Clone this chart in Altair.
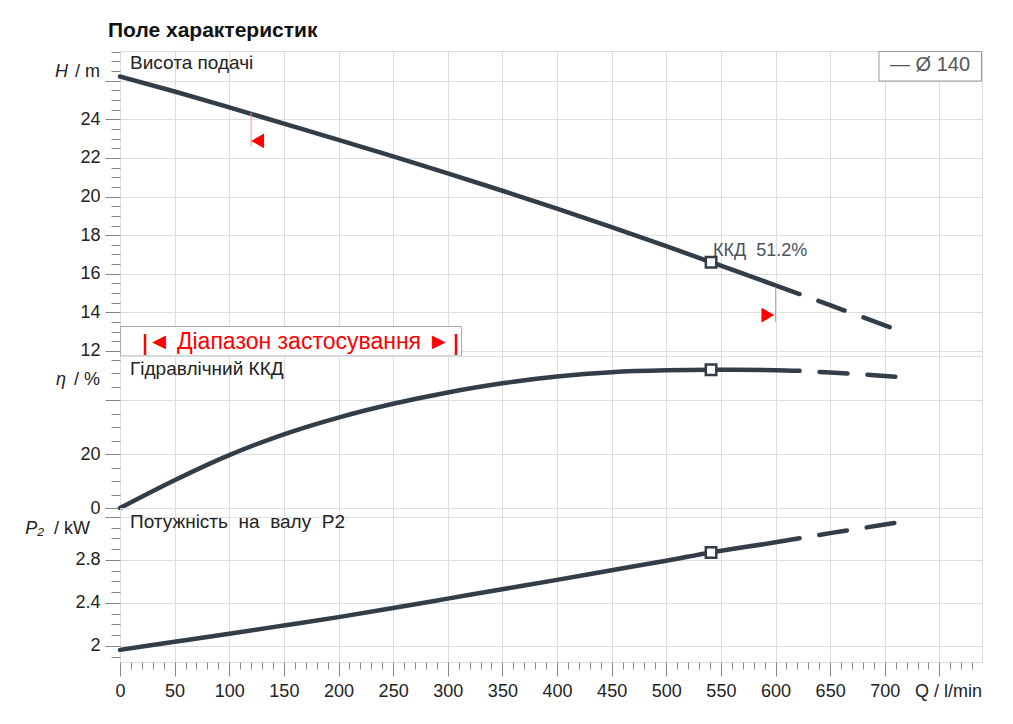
import altair as alt
import pandas as pd

FONT = "Liberation Sans"
C = "#323d48"

# ---- data ----
Q_SOLID = [0, 50, 100, 150, 200, 250, 300, 350, 400, 450, 500, 541, 600, 622]
Q_DASH = [622, 650, 700, 710]
H_SOLID = [26.22, 25.44, 24.62, 23.78, 22.94, 22.08, 21.2, 20.3, 19.38, 18.42, 17.43, 16.6, 15.4, 14.95]
H_DASH = [14.95, 14.37, 13.33, 13.12]
ETA_SOLID = [0, 10.3, 19.6, 27.3, 33.5, 38.6, 42.8, 46.2, 48.7, 50.3, 51.0, 51.2, 51.05, 50.8]
ETA_DASH = [50.8, 50.2, 48.9, 48.6]
P2_SOLID = [1.963, 2.038, 2.113, 2.19, 2.268, 2.352, 2.44, 2.528, 2.615, 2.705, 2.793, 2.87, 2.965, 3.003]
P2_DASH = [3.003, 3.05, 3.13, 3.146]

BEP_Q = [541]
BEP_H = [16.6]
BEP_ETA = [51.2]
BEP_P2 = [2.87]
BEP_LABEL = ["ККД\u00a0\u00a051.2%"]

RANGE_Q = [120, 600]
RANGE_H1 = [24.34, 15.3]
RANGE_H2 = [22.6, 13.5]
TRI_Q = [126, 593]
TRI_H = [22.88, 13.86]
TRI_SHAPE = ["triangle-left", "triangle-right"]

X_MINOR = list(range(0, 790, 10))
X_MAJOR = list(range(0, 790, 50))
H_TICKS = [12 + 0.5 * i for i in range(32)]
ETA_TICKS = list(range(0, 60, 5))
P2_TICKS = [round(1.9 + 0.1 * i, 1) for i in range(14)]

W = 862
HT, HM, HB = 305, 152, 154

x_scale = alt.Scale(domain=[0, 789], nice=False, zero=False)
LBL = dict(labelFont=FONT, labelFontSize=18, labelColor="#222")


def xenc(bottom=False):
    if bottom:
        ax = alt.Axis(
            values=X_MINOR, title=None, grid=True, domain=False,
            tickSize={"condition": {"test": "datum.value % 50 === 0", "value": 14}, "value": 7},
            gridOpacity={"condition": {"test": "datum.value % 50 === 0", "value": 1}, "value": 0},
            labelExpr="datum.value % 50 === 0 && datum.value <= 700 ? format(datum.value, 'd') : ''",
            labelPadding=6, labelOverlap=False, labelFlush=False, **LBL,
        )
    else:
        ax = alt.Axis(values=X_MAJOR, title=None, grid=True, labels=False, ticks=False, domain=False)
    return alt.X("Q:Q", scale=x_scale, axis=ax)


def yaxis(values, test, label_expr):
    return alt.Axis(
        values=values, title=None, grid=True, domain=False,
        tickSize={"condition": {"test": test, "value": 15}, "value": 9},
        gridOpacity={"condition": {"test": test, "value": 1}, "value": 0},
        labelExpr=label_expr, labelPadding=5, labelOverlap=False, labelFlush=False, **LBL,
    )


def text_at(txt, x, y, size=19, align="left", style="normal", weight="normal", color="#222"):
    return alt.Chart(pd.DataFrame({"t": [txt]})).mark_text(
        align=align, baseline="middle", font=FONT, fontSize=size,
        fontStyle=style, fontWeight=weight, color=color,
    ).encode(text="t:N", x=alt.value(x), y=alt.value(y))


def curve(qs, vs, qd, vd, bq, bv, y, bottom=False):
    ds = pd.DataFrame({"Q": qs, "v": vs})
    dd = pd.DataFrame({"Q": qd, "v": vd})
    db = pd.DataFrame({"Q": bq, "v": bv})
    solid = alt.Chart(ds).mark_line(color=C, strokeWidth=4.5, strokeCap="round", strokeJoin="round",
                                    interpolate="monotone").encode(x=xenc(bottom), y=y)
    dash = alt.Chart(dd).mark_line(color=C, strokeWidth=4.5, strokeCap="round", interpolate="monotone",
                                   strokeDash=[28, 20], strokeDashOffset=28).encode(x=xenc(bottom), y=y)
    bep = alt.Chart(db).mark_point(shape="square", size=110, filled=True, fill="white",
                                   stroke=C, strokeWidth=2.5, opacity=1).encode(x=xenc(bottom), y=y)
    return [solid, dash, bep]


# ---- top panel: head ----
yH = alt.Y("v:Q", scale=alt.Scale(domain=[11.74, 27.54], nice=False, zero=False),
           axis=yaxis(H_TICKS, "round(datum.value*2) % 4 === 0",
                      "round(datum.value*2) % 4 === 0 && datum.value <= 24 ? format(datum.value, 'd') : ''"))

range_df = pd.DataFrame({"Q": RANGE_Q, "v": RANGE_H1, "v2": RANGE_H2})
tri_df = pd.DataFrame({"Q": TRI_Q, "v": TRI_H, "s": TRI_SHAPE})
range_rules = alt.Chart(range_df).mark_rule(color="#ff9090", strokeWidth=1).encode(
    x=xenc(), y=yH, y2="v2:Q")
tris = alt.Chart(tri_df).mark_point(filled=True, color="#ff0000", size=220, opacity=1).encode(
    x=xenc(), y=yH, shape=alt.Shape("s:N", scale=None))

bep_txt = alt.Chart(pd.DataFrame({"Q": BEP_Q, "v": BEP_H, "t": BEP_LABEL})).mark_text(
    align="left", baseline="middle", dx=2, dy=-11, font=FONT, fontSize=18, color="#4b535c").encode(
    x=xenc(), y=yH, text="t:N")

dummy = pd.DataFrame({"a": [0]})
legend_box = alt.Chart(dummy).mark_rect(fill="white", stroke="#9a9a9a", strokeWidth=1).encode(
    x=alt.value(759), x2=alt.value(861.5), y=alt.value(0.5), y2=alt.value(30))
legend_txt = text_at("— Ø 140", 810, 14, size=20, align="center", color="#555")

range_box = alt.Chart(dummy).mark_rect(fill="white", stroke="#a8a8a8", strokeWidth=1).encode(
    x=alt.value(0.5), x2=alt.value(341.5), y=alt.value(275.5), y2=alt.value(305))
bar_l = alt.Chart(dummy).mark_rule(color="#ff0000", strokeWidth=2.5).encode(
    x=alt.value(25), y=alt.value(283), y2=alt.value(304))
bar_r = alt.Chart(dummy).mark_rule(color="#ff0000", strokeWidth=2.5).encode(
    x=alt.value(336), y=alt.value(283), y2=alt.value(304))
range_txt = text_at("◄ Діапазон застосування ►", 179, 291, size=23, align="center", color="#ff0000")

top = alt.layer(
    *curve(Q_SOLID, H_SOLID, Q_DASH, H_DASH, BEP_Q, BEP_H, yH),
    range_rules, tris, bep_txt, legend_box, legend_txt, range_box, bar_l, bar_r, range_txt,
    text_at("Висота подачі", 10, 12),
    text_at("Поле характеристик", -12, -20, size=21, weight="bold", color="#111"),
    text_at("H", -52, 21, size=18, align="right", style="italic"),
    text_at("/\u00a0m", -20, 21, size=18, align="right"),
).properties(width=W, height=HT)

# ---- middle panel: efficiency ----
yE = alt.Y("v:Q", scale=alt.Scale(domain=[0, 56.3], nice=False, zero=False),
           axis=yaxis(ETA_TICKS, "datum.value % 20 === 0",
                      "datum.value === 0 || datum.value === 20 ? format(datum.value, 'd') : ''"))
mid = alt.layer(
    *curve(Q_SOLID, ETA_SOLID, Q_DASH, ETA_DASH, BEP_Q, BEP_ETA, yE),
    text_at("Гідравлічний ККД", 10, 13),
    text_at("η", -54, 24, size=18, align="right", style="italic"),
    text_at("/\u00a0%", -20, 24, size=18, align="right"),
).properties(width=W, height=HM)

# ---- bottom panel: power ----
yP = alt.Y("v:Q", scale=alt.Scale(domain=[1.85, 3.284], nice=False, zero=False),
           axis=yaxis(P2_TICKS, "round(datum.value*10) % 4 === 0",
                      "round(datum.value*10) % 4 === 0 && datum.value < 3 ? format(datum.value, '~g') : ''"))
bot = alt.layer(
    *curve(Q_SOLID, P2_SOLID, Q_DASH, P2_DASH, BEP_Q, BEP_P2, yP, bottom=True),
    text_at("Потужність\u00a0 на\u00a0 валу\u00a0 P2", 10, 14),
    text_at("P₂", -76, 21, size=18, align="right", style="italic"),
    text_at("/\u00a0kW", -30, 21, size=18, align="right"),
    text_at("Q / l/min", 862, 184, size=18, align="right"),
).properties(width=W, height=HB)

chart = alt.vconcat(top, mid, bot, spacing=0, bounds="flush").properties(
    padding={"left": 16, "top": 11, "right": 5, "bottom": 5}
).configure_view(stroke="#a8a8a8", strokeWidth=1).configure_axis(
    labelFont=FONT, labelFontSize=18, labelColor="#222", tickColor="#9a9a9a",
    gridColor="#ebebeb", gridWidth=1,
).configure(background="white")

chart.save("out.html", embed_options={"renderer": "svg", "actions": False})
